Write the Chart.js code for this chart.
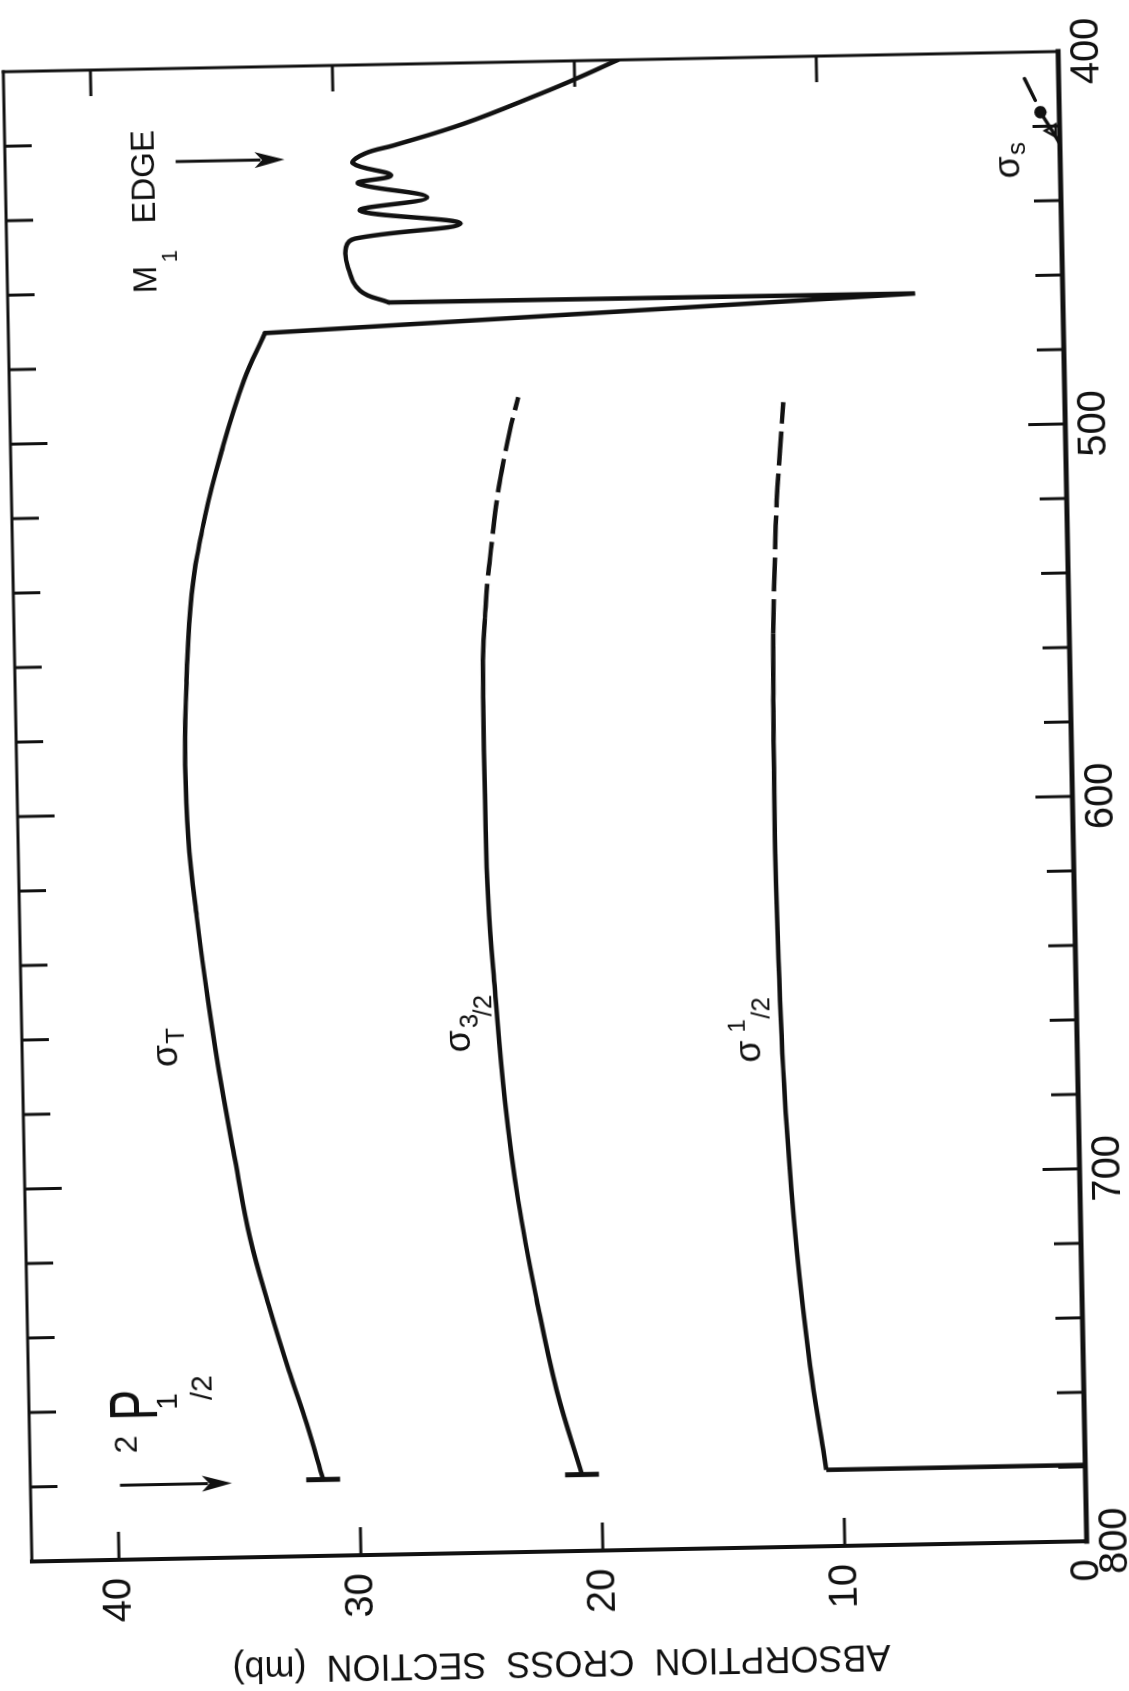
<!DOCTYPE html>
<html>
<head>
<meta charset="utf-8">
<title>Absorption cross section</title>
<script src="https://cdn.jsdelivr.net/npm/chart.js@4.4.1/dist/chart.umd.min.js"></script>
<style>
  html, body { margin: 0; padding: 0; background: #ffffff; overflow: hidden; width: 1129px; height: 1691px; }
  /* The figure is laid out landscape and turned onto the portrait page. */
  #stage {
    position: absolute; left: -350px; top: 254.5px;
    width: 1700px; height: 1219px;
    transform-origin: 895px 551.5px;
    transform: rotate(-91.1deg);
  }
  canvas { display: block; }
</style>
</head>
<body>
<div id="stage"><canvas id="chart" width="1700" height="1219"></canvas></div>
<script>
// ---- data: wavelength (Å) and cross section (mb) ----
const waveTickValues  = [400, 500, 600, 700, 800];
const sigmaTickValues = [0, 10, 20, 30, 40];

// total cross section, threshold to the window edge
const sigmaTWave  = [779.5, 764.4, 750.9, 733.6, 714.2, 693.1, 673.8, 650.6, 627.7, 606.5, 583.4, 564.3, 541.3, 520.4, 503.0, 484.1, 471.5];
const sigmaTValue = [31.5, 32.14, 32.79, 33.56, 34.33, 34.89, 35.38, 35.87, 36.28, 36.56, 36.63, 36.51, 36.23, 35.62, 34.88, 33.9, 33.0];
// the deep window
const sigmaTWindowWave  = [471.5, 464.2, 463.9];
const sigmaTWindowValue = [33.0, 6.1, 27.85];
// resonances below the M1 edge
const sigmaTResWave  = [463.9, 460.6, 454.3, 448.9, 446.6, 443.1, 439.1, 435.9, 431.8, 429.8, 426.4, 423.8, 421.8, 416.3, 408.6, 404.5, 400.0];
const sigmaTResValue = [27.85, 29.03, 29.51, 29.58, 29.2, 24.83, 28.97, 26.19, 29.03, 27.66, 29.22, 28.72, 27.54, 24.61, 21.4, 19.82, 18.2];
const sigmaTCapWave  = [779.5, 779.5];
const sigmaTCapValue = [30.8, 32.2];

// 2P3/2 partial cross section
const sigma32Wave  = [779.5, 756.8, 732.5, 705.6, 678.7, 649.1, 624.9, 598.1, 571.2, 557.8, 549.0, 539.8, 529.1, 517.6, 509.6, 498.9, 490.0];
const sigma32Value = [20.8, 21.78, 22.53, 23.22, 23.69, 24.01, 24.22, 24.27, 24.27, 24.23, 24.13, 24.01, 23.79, 23.55, 23.32, 22.95, 22.58];
const sigma32CapWave  = [779.5, 779.5];
const sigma32CapValue = [20.1, 21.5];

// 2P1/2 partial cross section
const sigma12OnsetWave  = [779.5, 779.5];
const sigma12OnsetValue = [0, 10.7];
const sigma12Wave  = [779.5, 774.3, 751.4, 720.5, 686.9, 653.3, 613.0, 572.7, 554.7, 532.5, 519.1, 505.7, 492.7];
const sigma12Value = [10.7, 10.81, 11.29, 11.75, 12.07, 12.24, 12.33, 12.28, 12.23, 12.09, 11.98, 11.81, 11.63];

// 3s partial cross section
const sigmaSWave  = [424.8, 421.2, 416.2, 413.0, 407.1];
const sigmaSValue = [0.0, 0.31, 0.78, 0.98, 1.41];

// ---- styling ----
const INK = '#111111';
const FONT = '"Liberation Sans", Arial, sans-serif';
const DASH_FROM = 557;   // partial curves are dashed at shorter wavelengths

const xy = (ws, vs) => ws.map((w, i) => ({ x: w, y: vs[i] }));
const curve = (data, extra) => Object.assign({
  data, borderColor: INK, borderWidth: 4.5, pointRadius: 0, fill: false,
  tension: 0, borderCapStyle: 'round', borderJoinStyle: 'round'
}, extra || {});
const dashed = { borderDash: c => (c.p0.parsed.x <= DASH_FROM ? [34, 8] : undefined) };

const datasets = [
  curve(xy(sigmaTWave, sigmaTValue), { tension: 0.4 }),
  curve(xy(sigmaTWindowWave, sigmaTWindowValue), { borderJoinStyle: 'miter' }),
  curve(xy(sigmaTResWave, sigmaTResValue), { tension: 0.4 }),
  curve(xy(sigmaTCapWave, sigmaTCapValue), { borderWidth: 5, borderCapStyle: 'butt' }),
  curve(xy(sigma32Wave, sigma32Value), { tension: 0.4, segment: dashed, borderCapStyle: 'butt' }),
  curve(xy(sigma32CapWave, sigma32CapValue), { borderWidth: 5, borderCapStyle: 'butt' }),
  curve(xy(sigma12OnsetWave, sigma12OnsetValue), { borderJoinStyle: 'miter', borderCapStyle: 'butt' }),
  curve(xy(sigma12Wave, sigma12Value), { tension: 0.4, segment: dashed, borderCapStyle: 'butt' }),
  curve(xy(sigmaSWave, sigmaSValue), {
    borderWidth: 3.5,
    segment: { borderColor: c => (c.p0DataIndex === 2 ? 'rgba(0,0,0,0)' : undefined) },
    pointRadius: [0, 7, 5, 0, 0],
    pointStyle: ['circle', 'triangle', 'circle', 'circle', 'circle'],
    pointBackgroundColor: ['rgba(0,0,0,0)', 'rgba(0,0,0,0)', INK, INK, INK],
    pointBorderColor: INK,
    pointBorderWidth: 2.5
  })
];

// frame with inward ticks on all four sides
const framePlugin = {
  id: 'frame',
  afterDatasetsDraw(chart) {
    const { ctx, chartArea: a, scales: { x, y } } = chart;
    const seg = (x0, y0, x1, y1, w) => {
      ctx.lineWidth = w; ctx.beginPath(); ctx.moveTo(x0, y0); ctx.lineTo(x1, y1); ctx.stroke();
    };
    ctx.save();
    ctx.strokeStyle = INK;
    ctx.lineCap = 'square';
    seg(a.left, a.top, a.right, a.top, 3);
    seg(a.right, a.top, a.right, a.bottom, 3);
    seg(a.left, a.top, a.left, a.bottom, 4);
    seg(a.left, a.bottom, a.right, a.bottom, 5);
    ctx.lineCap = 'butt';
    for (let w = 420; w < 800; w += 20) {
      const len = w % 100 === 0 ? 37 : 27;
      const px = x.getPixelForValue(w);
      seg(px, a.bottom, px, a.bottom - len, 3);
      seg(px, a.top, px, a.top + len, 3);
    }
    sigmaTickValues.slice(1).forEach(s => {
      const py = y.getPixelForValue(s);
      seg(a.left, py, a.left + 28, py, 3);
      seg(a.right, py, a.right - 26, py, 3);
    });
    ctx.restore();
  }
};

// curve names, the M1 edge and the 2P1/2 threshold marks
const notesPlugin = {
  id: 'notes',
  afterDraw(chart) {
    const { ctx, scales: { x, y } } = chart;
    const X = w => x.getPixelForValue(w);
    const Y = s => y.getPixelForValue(s);
    ctx.save();
    ctx.fillStyle = INK;
    ctx.strokeStyle = INK;
    ctx.textAlign = 'left';
    ctx.textBaseline = 'alphabetic';
    const put = (t, u, v, size, sx) => {
      sx = sx || 1;
      ctx.font = size + 'px ' + FONT;
      const w = ctx.measureText(t).width * sx;
      ctx.save(); ctx.translate(u, v); ctx.scale(sx, 1); ctx.fillText(t, 0, 0); ctx.restore();
      return w;
    };
    const arrow = (x0, y0, x1, y1) => {
      const d = Math.hypot(x1 - x0, y1 - y0), ux = (x1 - x0) / d, uy = (y1 - y0) / d;
      const head = 30, half = 8;
      ctx.lineWidth = 3;
      ctx.beginPath(); ctx.moveTo(x0, y0); ctx.lineTo(x1 - ux * head * 0.8, y1 - uy * head * 0.8); ctx.stroke();
      ctx.beginPath();
      ctx.moveTo(x1, y1);
      ctx.lineTo(x1 - ux * head - uy * half, y1 - uy * head + ux * half);
      ctx.lineTo(x1 - ux * head * 0.75, y1 - uy * head * 0.75);
      ctx.lineTo(x1 - ux * head + uy * half, y1 - uy * head - ux * half);
      ctx.closePath(); ctx.fill();
    };

    let u, v;
    // σT
    u = X(668); v = Y(37.2);
    u += put('σ', u, v, 36);
    put('T', u + 1, v + 7, 26);
    // σ3/2
    u = X(665.6); v = Y(25.1);
    u += put('σ', u, v, 36) + 2;
    u += put('3', u, v + 8, 26);
    put('/2', u - 3, v + 22, 26);
    // σ1/2
    u = X(669.8); v = Y(13.1);
    u += put('σ', u, v, 36) + 8;
    u += put('1', u, v - 15, 24);
    put('/2', u, v + 10, 26);
    // σs
    u = X(433.8); v = Y(1.7);
    u += put('σ', u, v, 36);
    put('s', u + 1, v + 6, 26);
    // M1 EDGE
    u = X(460.2); v = Y(37.45);
    u += put('M', u, v, 33);
    put('1', u + 3, v + 21, 22);
    put('EDGE', X(441.5), v, 33);
    arrow(X(425), Y(36.55), X(425), Y(32.05));
    // 2P1/2
    put('2', X(771.5), Y(39.17), 32);
    put('P', X(762.7), Y(38.3), 68, 0.68);
    put('1', X(760), Y(37.48), 30);
    put('/2', X(757.6), Y(36.02), 30);
    arrow(X(780), Y(39.9), X(780), Y(35.27));
    ctx.restore();
  }
};

new Chart(document.getElementById('chart'), {
  type: 'line',
  data: { datasets },
  options: {
    responsive: false,
    animation: false,
    devicePixelRatio: 1,
    layout: { padding: { left: 0, right: 60, top: 24, bottom: 0 } },
    plugins: { legend: { display: false }, tooltip: { enabled: false } },
    scales: {
      x: {
        type: 'linear', min: 400, max: 800, reverse: true,
        grid: { display: false, drawTicks: false },
        border: { display: false },
        ticks: { color: INK, font: { family: FONT, size: 40 }, padding: 5, autoSkip: false, maxRotation: 0 },
        afterBuildTicks: s => { s.ticks = waveTickValues.map(v => ({ value: v })); },
        afterFit: s => { s.height = 140; s.paddingLeft = 0; s.paddingRight = 0; }
      },
      y: {
        type: 'linear', min: 0, max: 43.6,
        grid: { display: false, drawTicks: false },
        border: { display: false },
        ticks: { color: INK, font: { family: FONT, size: 40 }, padding: 18, autoSkip: false },
        afterBuildTicks: s => { s.ticks = sigmaTickValues.map(v => ({ value: v })); },
        afterFit: s => { s.width = 150; s.paddingTop = 0; s.paddingBottom = 0; },
        title: {
          display: true,
          text: 'ABSORPTION  CROSS  SECTION  (mb)',
          color: INK,
          font: { family: FONT, size: 36 },
          padding: { top: 18, bottom: 0 }
        }
      }
    }
  },
  plugins: [framePlugin, notesPlugin]
});
</script>
</body>
</html>
